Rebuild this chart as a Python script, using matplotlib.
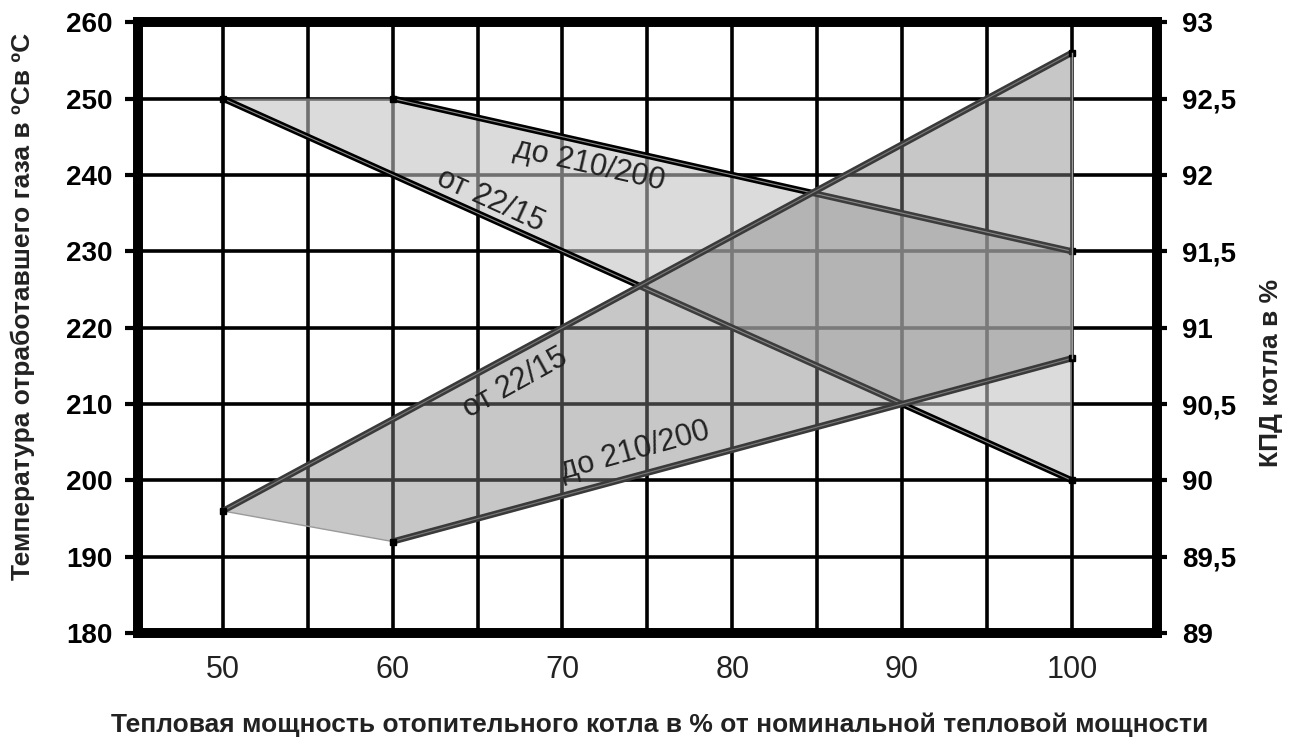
import matplotlib
matplotlib.use("Agg")
import matplotlib.pyplot as plt
from matplotlib.ticker import FuncFormatter, MultipleLocator

plt.rcParams['font.family'] = ['Liberation Sans', 'DejaVu Sans']

# Data
power = [50, 60, 100]                 # % of nominal heat output
temp_hi = [250, 250, 230]             # flue gas temperature, до 210/200
temp_lo = [250, 240, 200]             # flue gas temperature, от 22/15
eff_hi = [89.8, 90.4, 92.8]           # boiler efficiency, от 22/15
eff_lo = [89.8, 89.6, 90.8]           # boiler efficiency, до 210/200
x_ticks = [50, 60, 70, 80, 90, 100]
temp_ticks = [180, 190, 200, 210, 220, 230, 240, 250, 260]
eff_ticks = [89, 89.5, 90, 90.5, 91, 91.5, 92, 92.5, 93]

fig = plt.figure(figsize=(12.94, 7.38), dpi=100)
ax = fig.add_axes([0.1066, 0.142, 0.7874, 0.828])
ax2 = ax.twinx()

ax.set_xlim(45, 105)
ax.set_ylim(180, 260)
ax2.set_ylim(89, 93)

# grid
ax.xaxis.set_minor_locator(MultipleLocator(5))
ax.set_xticks(x_ticks)
ax.set_yticks(temp_ticks)
ax.grid(True, which='both', axis='x', color='black', lw=2.6, zorder=0)
ax.grid(True, which='major', axis='y', color='black', lw=2.6, zorder=0)
ax.set_axisbelow(True)

LW = 4.5
# temperature band
ax.fill_between(power, temp_lo, temp_hi, facecolor='#c2c2c2', alpha=0.58,
                edgecolor='none', zorder=2)
ax.plot(power[1:], temp_hi[1:], color='black', lw=LW, zorder=3,
        solid_capstyle='butt')
ax.plot(power[1:], temp_hi[1:], color='#8a8a8a', lw=0.8, zorder=3)
ax.plot([power[0], power[-1]], [temp_lo[0], temp_lo[-1]], color='black', lw=LW,
        zorder=3, solid_capstyle='butt')
ax.plot([power[0], power[-1]], [temp_lo[0], temp_lo[-1]], color='#8a8a8a', lw=0.8,
        zorder=3)
ax.plot([power[1], power[-1]], [temp_hi[1], temp_hi[-1]], 's', color='black', ms=5,
        zorder=3)
ax.plot([power[0], power[-1]], [temp_lo[0], temp_lo[-1]], 's', color='black', ms=5,
        zorder=3)

# efficiency band
ax2.fill_between(power, eff_lo, eff_hi, facecolor='#868686', alpha=0.457,
                 edgecolor='none', zorder=2)
ax2.plot(power[:2], eff_lo[:2], color='#9a9a9a', lw=1.0, zorder=3)
ax2.plot([power[0], power[-1]], [eff_hi[0], eff_hi[-1]], color='#3a3a3a', lw=LW,
         zorder=3, solid_capstyle='butt')
ax2.plot([power[0], power[-1]], [eff_hi[0], eff_hi[-1]], color='#7a7a7a', lw=0.8,
         zorder=3)
ax2.plot(power[1:], eff_lo[1:], color='#3a3a3a', lw=LW, zorder=3,
         solid_capstyle='butt')
ax2.plot(power[1:], eff_lo[1:], color='#7a7a7a', lw=0.8, zorder=3)
ax2.plot([power[0], power[-1]], [eff_hi[0], eff_hi[-1]], 's', color='black', ms=5,
         zorder=3)
ax2.plot([power[1], power[-1]], [eff_lo[1], eff_lo[-1]], 's', color='black', ms=5,
         zorder=3)
ax2.plot([power[-1], power[-1]], [eff_lo[-1], eff_hi[-1]], color='#9a9a9a', lw=1.0,
         zorder=3)

# line labels (drawn on top of both bands)
lab_kw = dict(fontsize=22, color='#222222', ha='center', va='center',
              rotation_mode='anchor', zorder=6)
ax2.text(71.6, 241.2, 'до 210/200', rotation=-12.7, transform=ax.transData, **lab_kw)
ax2.text(65.75, 236.7, 'от 22/15', rotation=-24.5, transform=ax.transData, **lab_kw)
ax2.text(67.2, 212.75, 'от 22/15', rotation=29.0, transform=ax.transData, **lab_kw)
ax2.text(74.25, 203.85, 'до 210/200', rotation=15.5, transform=ax.transData, **lab_kw)

# frame
for a in (ax, ax2):
    for s in a.spines.values():
        s.set_linewidth(7)
        s.set_color('black')

ax.tick_params(axis='x', which='both', length=0, pad=16, labelsize=22,
               labelcolor='#222222')
ax.tick_params(axis='y', length=9.4, width=3, pad=9, labelsize=20)
for t in ax.get_yticklabels():
    t.set_fontweight('bold')
ax2.set_yticks(eff_ticks)
ax2.yaxis.set_major_formatter(FuncFormatter(
    lambda v, p: (f'{v:g}').replace('.', ',')))
ax2.tick_params(axis='y', length=7, width=3, pad=11, labelsize=20)
for t in ax2.get_yticklabels():
    t.set_fontweight('bold')

ax.set_xlabel('Тепловая мощность отопительного котла в % от номинальной тепловой мощности',
              fontsize=19, fontweight='bold', color='#222222')
ax.set_ylabel('Температура отработавшего газа в ºСв ºС', fontsize=19,
              fontweight='bold', color='#222222')
ax2.set_ylabel('КПД котла в %', fontsize=19, fontweight='bold', color='#222222')
ax.xaxis.label.set_va('center')
ax.yaxis.label.set_va('center')
ax2.yaxis.label.set_va('center')
ax.xaxis.set_label_coords(0.512, -0.149)
ax.yaxis.set_label_coords(-0.113, 0.535)
ax2.yaxis.set_label_coords(1.112, 0.4255)

fig.savefig('out.png', dpi=100)
